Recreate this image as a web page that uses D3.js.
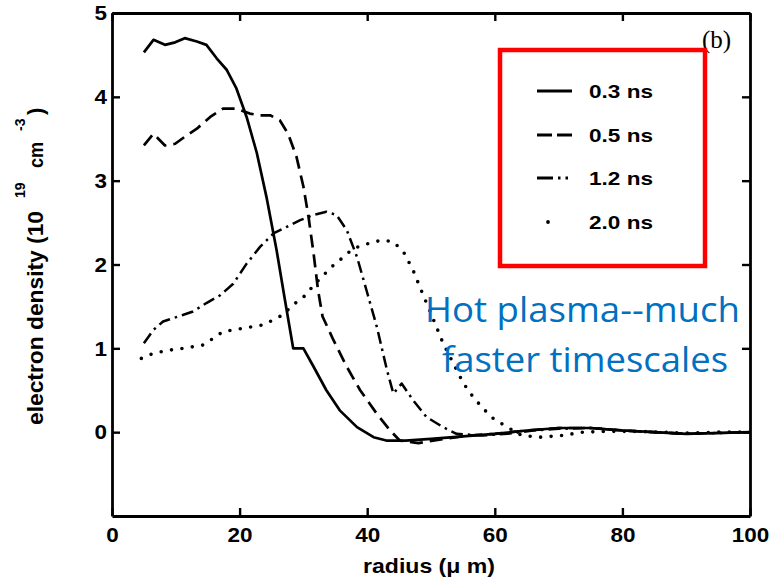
<!DOCTYPE html>
<html><head><meta charset="utf-8">
<script src="https://cdn.jsdelivr.net/npm/d3@7"></script>
<style>
body{margin:0;background:#fff;}
svg{display:block;}
</style></head>
<body>
<svg id="chart" width="769" height="580"></svg>
<script>
// ---- data ----
const xTicks = [0, 20, 40, 60, 80, 100];
const yTicks = [0, 1, 2, 3, 4, 5];
const seriesNames = ["0.3 ns", "0.5 ns", "1.2 ns", "2.0 ns"];

const radius03 = [5, 6.5, 8.3, 9.9, 11.4, 13.3, 14.8, 16.4, 18.0, 19.5, 21.1, 22.7, 24.2, 25.8, 27.1, 28.4, 30.0, 31.6, 33.6, 35.7, 38.4, 41.0, 43.0, 46, 50, 55, 60, 65, 70, 75, 80, 85, 90, 95, 100];
const density03 = [4.53, 4.68, 4.62, 4.65, 4.70, 4.66, 4.62, 4.46, 4.32, 4.10, 3.76, 3.33, 2.81, 2.17, 1.58, 1.0, 1.0, 0.78, 0.50, 0.26, 0.06, -0.06, -0.10, -0.10, -0.08, -0.05, -0.02, 0.02, 0.05, 0.05, 0.02, 0.0, -0.02, -0.01, 0];

const radius05 = [5, 6.5, 8.3, 9.9, 11.7, 13.3, 15.4, 17.4, 19.5, 21.6, 23.2, 24.8, 26.3, 27.6, 28.9, 30.0, 30.8, 31.6, 32.3, 33.0, 34.7, 36.8, 38.9, 41.5, 43.6, 45.1, 48, 52, 56, 60, 65, 70, 75, 80, 85, 90, 95, 100];
const density05 = [3.42, 3.56, 3.42, 3.44, 3.54, 3.62, 3.76, 3.86, 3.86, 3.80, 3.78, 3.78, 3.72, 3.56, 3.29, 2.93, 2.57, 2.13, 1.69, 1.38, 1.10, 0.78, 0.50, 0.22, 0.02, -0.10, -0.13, -0.08, -0.04, -0.02, 0.02, 0.05, 0.05, 0.02, 0.0, -0.02, -0.01, 0];

const radius12 = [5, 6.5, 8.0, 9.6, 11.2, 12.7, 14.8, 16.9, 19.0, 21.1, 23.2, 25.3, 27.4, 29.5, 31.6, 33.6, 35.2, 36.8, 38.4, 39.9, 41.5, 43.1, 44.1, 45.4, 47.2, 49.3, 51.9, 54.0, 58, 62, 66, 70, 75, 80, 85, 90, 95, 100];
const density12 = [1.06, 1.22, 1.32, 1.36, 1.40, 1.44, 1.54, 1.63, 1.77, 2.01, 2.21, 2.37, 2.45, 2.53, 2.59, 2.63, 2.59, 2.41, 2.09, 1.69, 1.26, 0.74, 0.46, 0.58, 0.38, 0.18, 0.06, -0.02, -0.04, -0.02, 0.02, 0.04, 0.05, 0.02, 0.0, -0.02, -0.01, 0];

const radius20 = [4.6, 6.5, 9.1, 11.2, 14.3, 15.9, 17.4, 20.6, 23.7, 25.3, 26.8, 28.4, 30.0, 31.6, 33.1, 34.7, 36.3, 37.8, 39.4, 41.0, 42.5, 44.1, 45.7, 47.2, 48.8, 50.4, 51.9, 53.5, 55.1, 56.6, 58.2, 59.8, 61.1, 64.2, 67.1, 70.5, 73.8, 78, 82, 86, 90, 95, 100];
const density20 = [0.88, 0.94, 0.98, 1.00, 1.04, 1.12, 1.20, 1.24, 1.28, 1.34, 1.40, 1.52, 1.61, 1.75, 1.87, 1.99, 2.09, 2.19, 2.23, 2.27, 2.29, 2.27, 2.15, 1.93, 1.63, 1.34, 1.06, 0.82, 0.58, 0.42, 0.28, 0.16, 0.10, -0.04, -0.06, -0.04, 0.0, 0.01, 0.01, 0.0, -0.01, 0, 0];

// ---- chart ----
const svg = d3.select("#chart");
const pLeft = 112, pRight = 750, pTop = 13, pBottom = 516;
const x = d3.scaleLinear().domain([0, 100]).range([pLeft, pRight]);
const y = d3.scaleLinear().domain([-1, 5]).range([pBottom, pTop]);
const font = "'Liberation Sans', Arial, Helvetica, sans-serif";

const series = [
  {name: seriesNames[0], xs: radius03, ys: density03, dash: null, cap: "butt", w: 2.7, legendDash: null},
  {name: seriesNames[1], xs: radius05, ys: density05, dash: "13 7", cap: "butt", w: 2.7, legendDash: "15 5 15"},
  {name: seriesNames[2], xs: radius12, ys: density12, dash: "12 5 2.5 5", cap: "butt", w: 2.5, legendDash: "16 5 2.5 5 2.5 10"},
  {name: seriesNames[3], xs: radius20, ys: density20, dash: "0 10.5", cap: "round", w: 3.6, legendDash: "0 40"}
];

const line = d3.line().x(d => x(d[0])).y(d => y(d[1]));

series.forEach(s => {
  const pts = s.xs.map((v, i) => [v, s.ys[i]]);
  svg.append("path")
    .attr("d", line(pts))
    .attr("fill", "none")
    .attr("stroke", "#000")
    .attr("stroke-width", s.w)
    .attr("stroke-linecap", s.cap)
    .attr("stroke-linejoin", "round")
    .attr("stroke-dasharray", s.dash);
});

// axes
function styleAxis(g, labels) {
  g.select(".domain").attr("stroke", "#000").attr("stroke-width", 2.8);
  g.selectAll(".tick line").attr("stroke", "#000").attr("stroke-width", 2.4);
  g.selectAll(".tick text").attr("font-family", font).attr("font-weight", "bold")
    .attr("font-size", 21).attr("fill", "#000")
    .attr("textLength", d => String(d).length * 12.5).attr("lengthAdjust", "spacingAndGlyphs");
  if (!labels) g.selectAll(".tick text").remove();
}
const gB = svg.append("g").attr("transform", `translate(0,${pBottom})`)
  .call(d3.axisBottom(x).tickValues(xTicks).tickSizeInner(-8).tickSizeOuter(0).tickPadding(11).tickFormat(d3.format("d")));
styleAxis(gB, true);
const gT = svg.append("g").attr("transform", `translate(0,${pTop})`)
  .call(d3.axisTop(x).tickValues(xTicks).tickSizeInner(-8).tickSizeOuter(0));
styleAxis(gT, false);
const gL = svg.append("g").attr("transform", `translate(${pLeft},0)`)
  .call(d3.axisLeft(y).tickValues(yTicks).tickSizeInner(-8).tickSizeOuter(0).tickPadding(5).tickFormat(d3.format("d")));
styleAxis(gL, true);
const gR = svg.append("g").attr("transform", `translate(${pRight},0)`)
  .call(d3.axisRight(y).tickValues(yTicks).tickSizeInner(-8).tickSizeOuter(0));
styleAxis(gR, false);

// x label
svg.append("text").attr("x", 429).attr("y", 573).attr("text-anchor", "middle")
  .attr("font-family", font).attr("font-weight", "bold").attr("font-size", 21)
  .attr("textLength", 132).attr("lengthAdjust", "spacingAndGlyphs")
  .text("radius (μ m)");

// y label (rotated)
const yl = svg.append("g").attr("transform", "rotate(-90)")
  .attr("font-family", font).attr("font-weight", "bold").attr("fill", "#000");
yl.append("text").attr("x", -425).attr("y", 43).attr("font-size", 22)
  .attr("textLength", 214).attr("lengthAdjust", "spacingAndGlyphs").text("electron density (10");
yl.append("text").attr("x", -198).attr("y", 25).attr("font-size", 14).text("19");
yl.append("text").attr("x", -168).attr("y", 43).attr("font-size", 21)
  .attr("textLength", 26).attr("lengthAdjust", "spacingAndGlyphs").text("cm");
yl.append("text").attr("x", -131).attr("y", 25).attr("font-size", 14).text("-3");
yl.append("text").attr("x", -115).attr("y", 43).attr("font-size", 22).text(")");

// (b)
svg.append("text").attr("x", 702).attr("y", 48)
  .attr("font-family", "'Liberation Serif', 'Times New Roman', serif").attr("font-size", 25)
  .text("(b)");

// legend
svg.append("rect").attr("x", 500).attr("y", 50).attr("width", 205).attr("height", 216)
  .attr("fill", "none").attr("stroke", "#ff0000").attr("stroke-width", 4.5);
const rowY = [91, 135, 178, 222];
series.forEach((s, i) => {
  if (i === 3) {
    svg.append("circle").attr("cx", 548).attr("cy", rowY[i]).attr("r", 1.9).attr("fill", "#000");
  } else {
    svg.append("line").attr("x1", 537).attr("x2", 572).attr("y1", rowY[i]).attr("y2", rowY[i])
      .attr("stroke", "#000").attr("stroke-width", 2.8).attr("stroke-dasharray", s.legendDash);
  }
  svg.append("text").attr("x", 589).attr("y", rowY[i] + 7)
    .attr("font-family", font).attr("font-weight", "bold").attr("font-size", 19)
    .attr("textLength", 64).attr("lengthAdjust", "spacingAndGlyphs")
    .text(s.name);
});

// annotation
const blue = "#0070c0";
svg.append("text").attr("x", 425).attr("y", 322).attr("fill", blue)
  .attr("font-family", "'Open Sans', Lato, sans-serif").attr("font-size", 34)
  .attr("textLength", 315).attr("lengthAdjust", "spacingAndGlyphs").text("Hot plasma--much");
svg.append("text").attr("x", 442).attr("y", 372).attr("fill", blue)
  .attr("font-family", "'Open Sans', Lato, sans-serif").attr("font-size", 34)
  .attr("textLength", 286).attr("lengthAdjust", "spacingAndGlyphs").text("faster timescales");
</script>
</body></html>
